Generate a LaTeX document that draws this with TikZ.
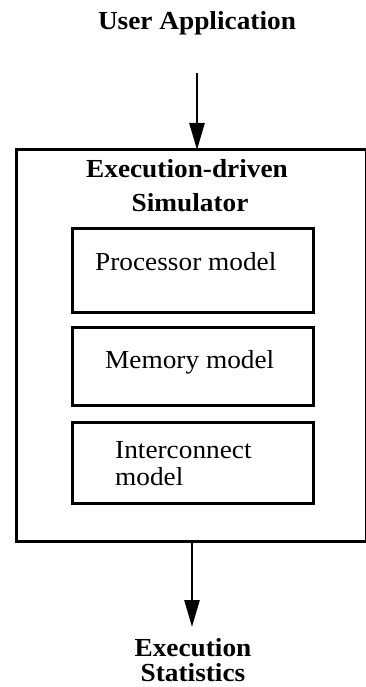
\documentclass[tikz,border=0pt]{standalone}
\usepackage{fontspec}
\setmainfont[FakeStretch=1.05]{Liberation Serif}
\usetikzlibrary{arrows.meta}
\begin{document}
\begin{tikzpicture}[x=1pt,y=-1pt,
  txt/.style={inner sep=0pt, font=\fontsize{26}{30}\selectfont},
  btxt/.style={txt, font=\fontsize{26}{30}\selectfont\bfseries},
  frame/.style={draw, line width=3pt, outer sep=0pt, inner sep=0pt, anchor=north west},
  flow/.style={line width=2.6pt, -{Triangle[length=27pt,width=15pt]}}]
\useasboundingbox (0,0) rectangle (366,687);

% input label
\node[btxt, anchor=base] (app) at (197,30) {User Application};

% simulator frame and its title
\node[frame, minimum width=350.5pt, minimum height=391pt] (sim) at (16,150) {};
\node[btxt, anchor=base] (title1) at (187,178) {Execution-driven};
\node[btxt, anchor=base] (title2) at (190,211) {Simulator};

% component models
\node[frame, minimum width=241pt, minimum height=84pt] (proc) at (72,228) {};
\node[frame, minimum width=241pt, minimum height=78pt] (mem) at (72,327) {};
\node[frame, minimum width=241pt, minimum height=81pt] (net) at (72,422) {};

\node[txt, anchor=base west] (procl) at (95,270) {Processor model};
\node[txt, anchor=base west] (meml) at (105,368) {Memory model};
\node[txt, anchor=base west] (netl1) at (115,458) {Interconnect};
\node[txt, anchor=base west] (netl2) at (115,485) {model};

% output label (two tight lines)
\node[btxt, anchor=base, text depth=0pt] (stat1) at (193,656) {Execution};
\node[btxt, anchor=base, text height=17pt] (stat2) at (193,681) {Statistics};

% flow arrows
\coordinate (inStart) at (197,73);
\coordinate (outEnd) at (192,627);
\draw[flow] (inStart) -- (inStart |- sim.north);
\draw[flow] (outEnd |- sim.south) -- (outEnd);
\end{tikzpicture}
\end{document}
